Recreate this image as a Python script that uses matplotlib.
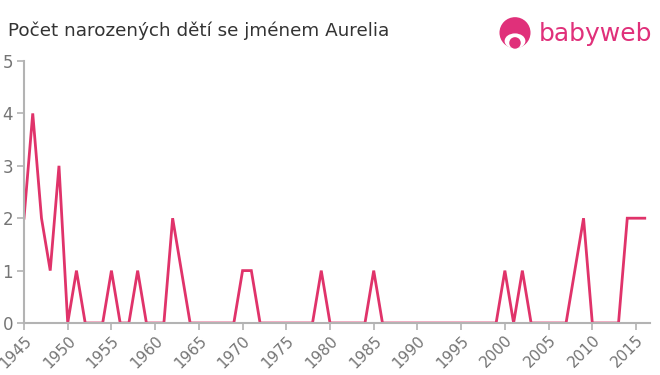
import matplotlib
matplotlib.use("Agg")
import matplotlib.pyplot as plt
from matplotlib.patches import Circle, Ellipse

years = list(range(1945, 2017))
counts = [2, 4, 2, 1, 3, 0, 1, 0, 0, 0,
          1, 0, 0, 1, 0, 0, 0, 2, 1, 0,
          0, 0, 0, 0, 0, 1, 1, 0, 0, 0,
          0, 0, 0, 0, 1, 0, 0, 0, 0, 0,
          1, 0, 0, 0, 0, 0, 0, 0, 0, 0,
          0, 0, 0, 0, 0, 1, 0, 1, 0, 0,
          0, 0, 0, 1, 2, 0, 0, 0, 0, 2,
          2, 2]
xticks = list(range(1945, 2016, 5))
yticks = [0, 1, 2, 3, 4, 5]
title = "Počet narozených dětí se jménem Aurelia"

line_color = "#e0336a"
gray = "#b3b3b3"
text_gray = "#757575"

fig = plt.figure(figsize=(6.6, 3.75), dpi=100)
ax = fig.add_axes([24/660, 1-323/375, (650-24)/660, (323-61)/375])
ax.plot(years, counts, color=line_color, linewidth=2, solid_joinstyle="miter")
ax.set_xlim(1945, 2016.6)
ax.set_ylim(0, 5)
ax.set_xticks(xticks)
ax.set_xticklabels([str(x) for x in xticks], rotation=45, ha="right", rotation_mode="anchor")
ax.set_yticks(yticks)
for s in ["top", "right"]:
    ax.spines[s].set_visible(False)
for s in ["left", "bottom"]:
    ax.spines[s].set_color(gray)
    ax.spines[s].set_linewidth(1.5)
ax.tick_params(axis="x", colors=gray, labelcolor=text_gray, labelsize=11, length=5, width=1.2, pad=2)
ax.tick_params(axis="y", colors=gray, labelcolor=text_gray, labelsize=12, length=5, width=1.2, pad=3)
ax.patch.set_alpha(0)

fig.text(8/660, 1-31/375, title, fontsize=13.2, color="#333333", va="center", ha="left")

# logo
logo_color = "#e0307a"
lax = fig.add_axes([499/660, 1-49/375, 32/660, 32/375])
lax.set_xlim(-1, 1)
lax.set_ylim(-1, 1)
lax.set_aspect("equal")
lax.axis("off")
lax.add_patch(Circle((0, 0.02), 0.97, facecolor=logo_color, edgecolor="none"))
lax.add_patch(Ellipse((0, -0.5), 1.3, 0.95, facecolor="white", edgecolor="none"))
lax.add_patch(Circle((0, -0.62), 0.36, facecolor=logo_color, edgecolor="none"))
fig.text(539/660, 1-34/375, "babyweb", fontsize=18, color=logo_color, va="center", ha="left")

fig.savefig("out.png", dpi=100)
